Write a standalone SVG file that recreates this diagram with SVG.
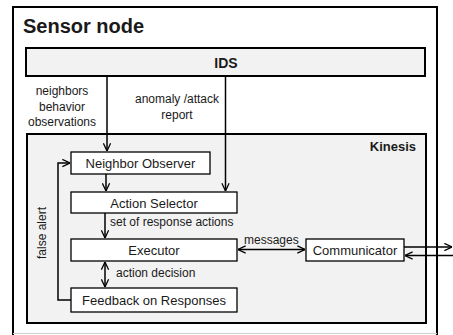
<svg xmlns="http://www.w3.org/2000/svg" width="453" height="335" viewBox="0 0 453 335">
<defs>
<style>
text{font-family:"Liberation Sans",Arial,sans-serif;fill:#1a1a1a}
.b{font-weight:bold}
.box{fill:#fff;stroke:#000;stroke-width:1.3}
.cont{fill:#f2f2f2;stroke:#000;stroke-width:2}
.ln{fill:none;stroke:#000;stroke-width:1.5}
.t13{font-size:13px;text-anchor:middle}
.t12{font-size:12px}
</style>
<marker id="ah" viewBox="0 0 10 10" refX="9.5" refY="5" markerWidth="9" markerHeight="9" markerUnits="userSpaceOnUse" orient="auto-start-reverse">
<path d="M1,1 L9.5,5 L1,9" fill="none" stroke="#000" stroke-width="1.4"/>
</marker>
</defs>
<rect width="453" height="335" fill="#fff"/>
<g id="sensor-node">
<path d="M13,340 V7 H437 V340" fill="#fff" stroke="#000" stroke-width="2"/>
<line x1="13" y1="333.5" x2="437" y2="333.5" stroke="#d0d0d0" stroke-width="1"/>
<text x="23" y="33" class="b" font-size="20">Sensor node</text>
</g>
<g id="ids">
<rect class="cont" x="26" y="48" width="399" height="28"/>
<text x="226" y="68" class="b" font-size="14" text-anchor="middle">IDS</text>
</g>
<g id="kinesis">
<rect class="cont" x="27" y="134" width="399" height="189"/>
<text x="416" y="151" class="b" font-size="13" text-anchor="end">Kinesis</text>
</g>
<g id="neighbor-observer">
<rect class="box" x="71" y="152" width="139" height="22"/>
<text x="140.5" y="168" class="t13">Neighbor Observer</text>
</g>
<g id="action-selector">
<rect class="box" x="71" y="192" width="166" height="21"/>
<text x="154" y="207.5" class="t13">Action Selector</text>
</g>
<g id="executor">
<rect class="box" x="71" y="239" width="166" height="22"/>
<text x="154" y="255" class="t13">Executor</text>
</g>
<g id="feedback">
<rect class="box" x="71" y="288" width="166" height="24"/>
<text x="154" y="305" class="t13">Feedback on Responses</text>
</g>
<g id="communicator">
<rect class="box" x="306" y="239" width="98" height="22"/>
<text x="355" y="255" class="t13">Communicator</text>
</g>
<g id="connectors">
<line class="ln" x1="107" y1="76" x2="107" y2="151" marker-end="url(#ah)"/>
<line class="ln" x1="225.5" y1="76" x2="225.5" y2="191" marker-end="url(#ah)"/>
<line class="ln" x1="106" y1="174" x2="106" y2="191" marker-end="url(#ah)"/>
<line class="ln" x1="105" y1="213" x2="105" y2="238" marker-end="url(#ah)"/>
<line class="ln" x1="105" y1="262" x2="105" y2="287" marker-start="url(#ah)" marker-end="url(#ah)"/>
<line class="ln" x1="238" y1="249.5" x2="305" y2="249.5" marker-start="url(#ah)" marker-end="url(#ah)"/>
<path class="ln" d="M71,300 H58 V163 H70" marker-end="url(#ah)"/>
<line class="ln" x1="404" y1="247" x2="452" y2="247" marker-end="url(#ah)"/>
<line class="ln" x1="453" y1="255.5" x2="405" y2="255.5" marker-end="url(#ah)"/>
<text class="t12" text-anchor="middle"><tspan x="62" y="95">neighbors</tspan><tspan x="62" y="111">behavior</tspan><tspan x="62" y="126">observations</tspan></text>
<text class="t12" text-anchor="middle"><tspan x="177" y="103">anomaly /attack</tspan><tspan x="177" y="119">report</tspan></text>
<text class="t12" x="110" y="226">set of response actions</text>
<text class="t12" x="116" y="277">action decision</text>
<text class="t12" x="244" y="244">messages</text>
<text class="t12" text-anchor="middle" transform="translate(46,233) rotate(-90)">false alert</text>
</g>
</svg>
